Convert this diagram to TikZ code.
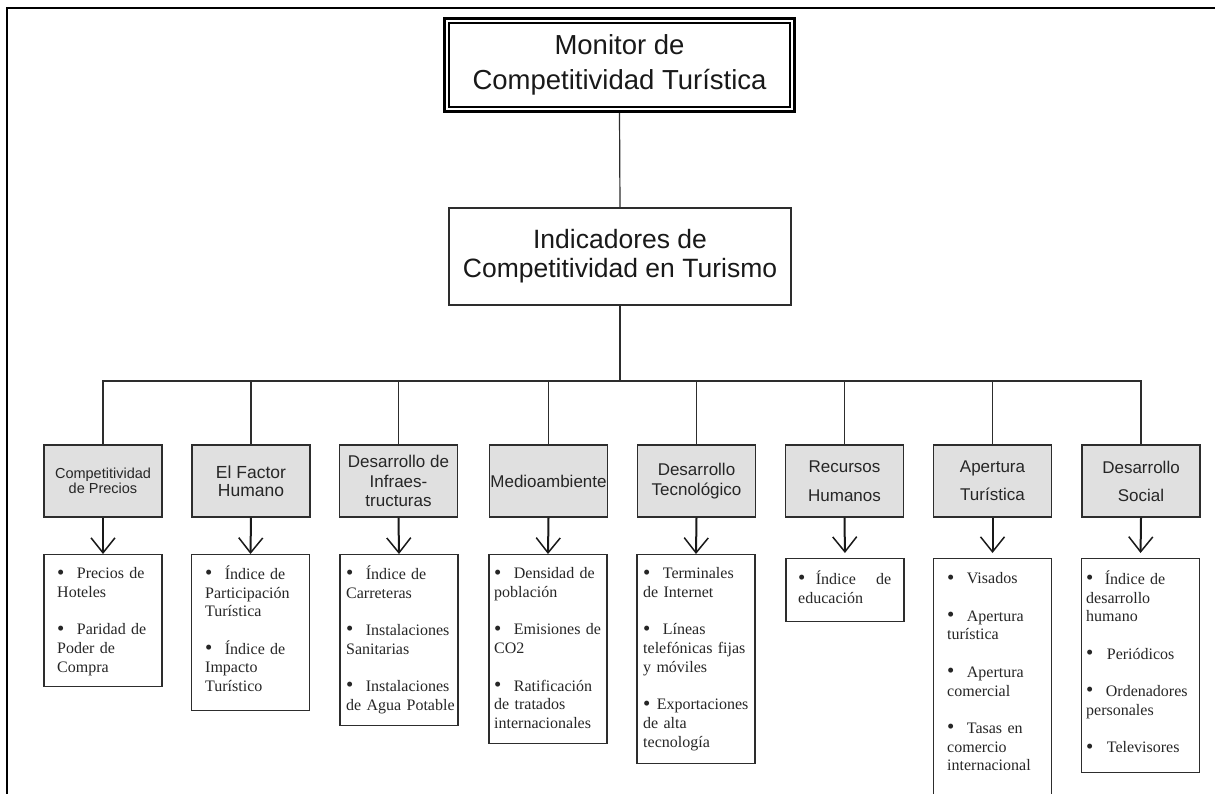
\documentclass[tikz,border=0pt]{standalone}
\usepackage{graphicx}
\usepackage{fontspec}
\setmainfont{Liberation Serif}
\newfontfamily\sansf{Liberation Sans}
\usetikzlibrary{arrows.meta}
\newcommand\myb[1][13pt]{\raisebox{-0.3pt}{\scalebox{1.3}{\textbullet}}\hspace{\dimexpr#1-1.6pt\relax}}
\definecolor{catgray}{RGB}{224,224,224}
\definecolor{ink}{RGB}{45,45,45}
\begin{document}
\begin{tikzpicture}[x=1pt,y=-1pt,
  conn/.style={draw=ink, line width=1.2pt},
  catbox/.style={draw=ink, line width=1.4pt, fill=catgray, minimum width=118pt, minimum height=72pt, inner sep=0pt, align=center, text=black!85, font=\sansf\fontsize{17}{19.5}\selectfont},
  detbox/.style={draw=ink, line width=1.2pt, minimum width=118pt, inner sep=0pt, anchor=north},
  dtxt/.style={anchor=north west, inner sep=0pt, align=left, text=black!85, font=\fontsize{16}{18.7}\selectfont},
  arr/.style={draw=black!90, line width=2pt, -{Straight Barb[length=15pt,width=24pt,line width=1.5pt]}},
]
\fill[white] (0,0) rectangle (1215,793);
\path[use as bounding box] (0,0) rectangle (1215,793);
% frame
\draw[line width=2.6pt, black] (7,800) -- (7,8) -- (1220,8);

% top box
\node[draw=black, line width=3pt, minimum width=350pt, minimum height=93pt, inner sep=0pt, align=center,
      font=\sansf\fontsize{27.5}{35}\selectfont, text=black!90] (mon) at (619.5,65) {Monitor de\\Competitividad Turística};
\draw[black, line width=1.3pt] ([shift={(6pt,6pt)}]mon.south west) rectangle ([shift={(-6pt,-6pt)}]mon.north east);

\node[draw=ink, line width=1.2pt, minimum width=342pt, minimum height=97pt, inner sep=0pt, align=center,
      font=\sansf\fontsize{26.5}{29}\selectfont, text=black!90] (ind) at (620,256.5) {Indicadores de\\Competitividad en Turismo};

\coordinate (bus) at (620,381);

% category boxes
\node[catbox, font=\sansf\fontsize{14.5}{15.5}\selectfont] (c1) at (103,481) {Competitividad\\de Precios};
\node[catbox, font=\sansf\fontsize{17.5}{18.5}\selectfont] (c2) at (251,481) {El Factor\\Humano};
\node[catbox, font=\sansf\fontsize{17}{19.5}\selectfont] (c3) at (398.5,481) {Desarrollo de\\Infraes-\\tructuras};
\node[catbox] (c4) at (548.5,481) {Medioambiente};
\node[catbox, font=\sansf\fontsize{17}{20}\selectfont] (c5) at (696.5,481) {Desarrollo\\Tecnológico};
\node[catbox, font=\sansf\fontsize{17}{29}\selectfont] (c6) at (844.5,481) {Recursos\\Humanos};
\node[catbox, font=\sansf\fontsize{17}{28}\selectfont] (c7) at (992.5,481) {Apertura\\Turística};
\node[catbox, font=\sansf\fontsize{17}{28}\selectfont] (c8) at (1141,481) {Desarrollo\\Social};

% detail boxes
\node[detbox, minimum height=132pt] (d1) at (103,554) {};
\node[detbox, minimum height=156pt] (d2) at (250.5,554) {};
\node[detbox, minimum height=171pt] (d3) at (399,554) {};
\node[detbox, minimum height=189pt] (d4) at (548,554) {};
\node[detbox, minimum height=209pt] (d5) at (696,554) {};
\node[detbox, minimum height=63pt] (d6) at (845,558) {};
\node[detbox, minimum height=250pt] (d7) at (992.5,558) {};
\node[detbox, minimum height=214pt] (d8) at (1140.5,558) {};

% detail texts
\node[dtxt, text width=104pt] (t1) at (57,565.5) {\strut\myb[14pt]Precios de\\Hoteles\\[18.7pt]\myb[14pt]Paridad de\\Poder de\\Compra};
\node[dtxt, text width=104pt] (t2) at (205,565.5) {\strut\myb[14pt]Índice de\\Participación\\Turística\\[18.7pt]\myb[14pt]Índice de\\Impacto\\Turístico};
\node[dtxt, text width=112pt] (t3) at (346,565.5) {\strut\myb[14pt]Índice de\\Carreteras\\[18.7pt]\myb[14pt]Instalaciones\\Sanitarias\\[18.7pt]\myb[14pt]Instalaciones\\de Agua Potable};
\node[dtxt, text width=113pt] (t4) at (494,565.5) {\strut\myb[14pt]Densidad de\\población\\[18.7pt]\myb[14pt]Emisiones de\\CO2\\[18.7pt]\myb[14pt]Ratificación\\de tratados\\internacionales};
\node[dtxt, text width=112pt] (t5) at (643,565.5) {\strut\myb[14pt]Terminales\\de Internet\\[18.7pt]\myb[14pt]Líneas\\telefónicas fijas\\y móviles\\[18.7pt]\myb[8pt]Exportaciones\\de alta\\tecnología};
\node[dtxt, text width=93pt] (t6) at (798,570.5) {\strut\myb[12pt]Índice \hfill de\\educación};
\node[dtxt, text width=104pt] (t7) at (947,570.5) {\strut\myb[14pt]Visados\\[18.7pt]\myb[14pt]Apertura\\turística\\[18.7pt]\myb[14pt]Apertura\\comercial\\[18.7pt]\myb[14pt]Tasas en\\comercio\\internacional};
\node[dtxt, text width=113pt] (t8) at (1086,570.5) {\strut\myb[13pt]Índice de\\desarrollo\\humano\\[18.7pt]\myb[15pt]Periódicos\\[18.7pt]\myb[14pt]Ordenadores\\personales\\[18.7pt]\myb[15pt]Televisores};

% connectors
\draw[conn] (mon.south) -- (ind.north);
\draw[conn] (ind.south) -- (bus);
\foreach \i in {1,...,8} \draw[conn] (bus) -| (c\i.north);
\draw[arr, line width=1.5pt] (c1.south) -- (d1.north);
\foreach \i in {2,...,5} \draw[arr] (c\i.south) -- (d\i.north);
\foreach \i in {6,7,8} \draw[arr, shorten >=5pt] (c\i.south) -- (d\i.north);
\end{tikzpicture}
\end{document}
